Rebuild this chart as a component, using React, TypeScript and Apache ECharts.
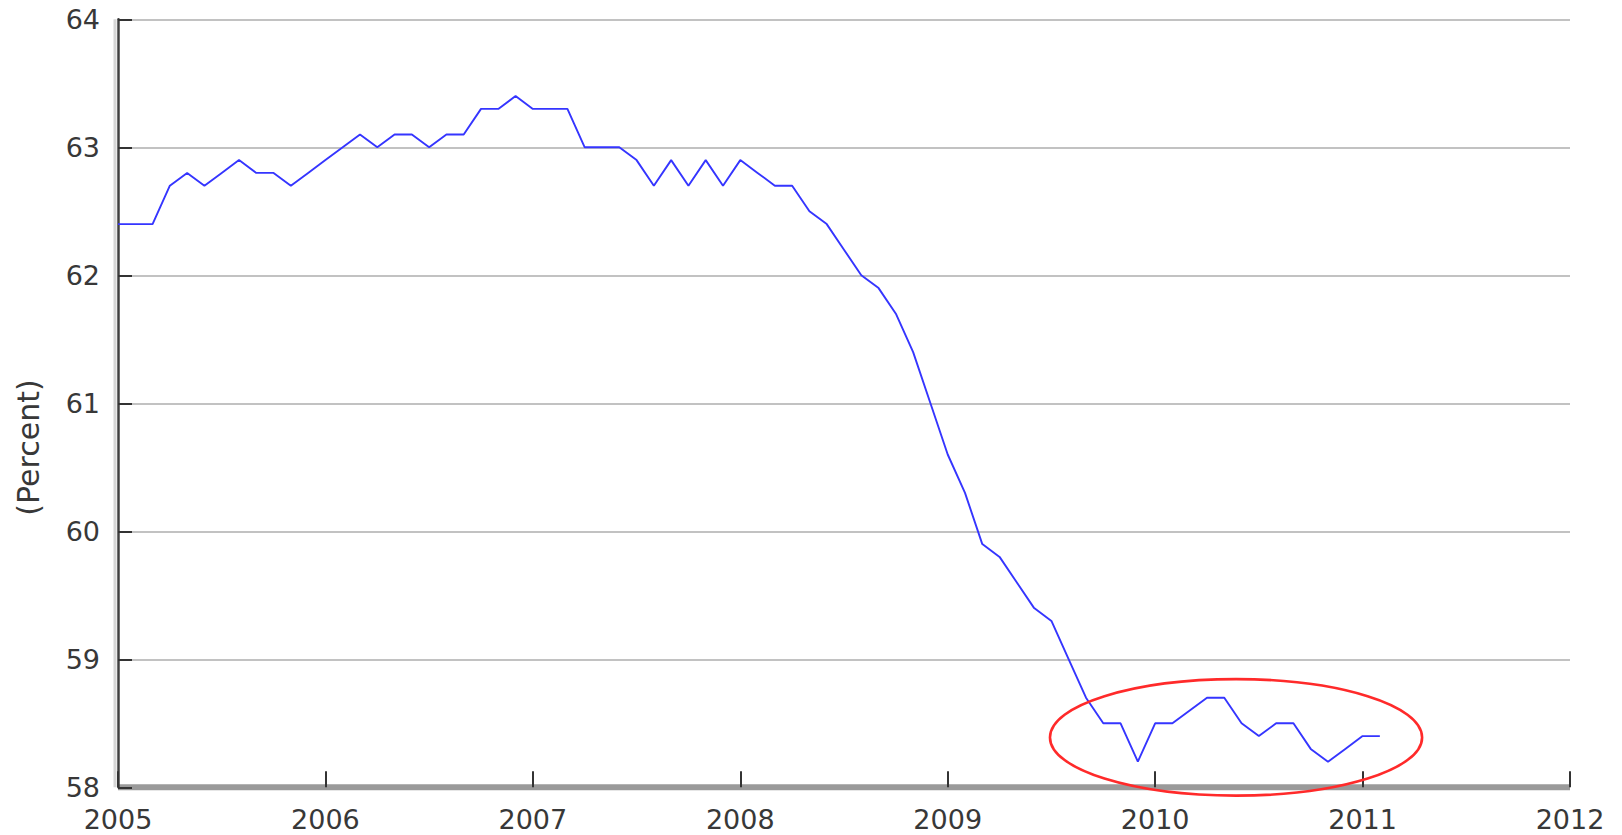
import React, { useEffect, useRef } from 'react';
import * as echarts from 'echarts';

// Tick labels
const xTickYears = [2005, 2006, 2007, 2008, 2009, 2010, 2011, 2012];
const yTickValues = [58, 59, 60, 61, 62, 63, 64];
const yAxisTitle = '(Percent)';

// Monthly values (percent)
const ratio2005 = [62.4, 62.4, 62.4, 62.7, 62.8, 62.7, 62.8, 62.9, 62.8, 62.8, 62.7, 62.8];
const ratio2006 = [62.9, 63.0, 63.1, 63.0, 63.1, 63.1, 63.0, 63.1, 63.1, 63.3, 63.3, 63.4];
const ratio2007 = [63.3, 63.3, 63.3, 63.0, 63.0, 63.0, 62.9, 62.7, 62.9, 62.7, 62.9, 62.7];
const ratio2008 = [62.9, 62.8, 62.7, 62.7, 62.5, 62.4, 62.2, 62.0, 61.9, 61.7, 61.4, 61.0];
const ratio2009 = [60.6, 60.3, 59.9, 59.8, 59.6, 59.4, 59.3, 59.0, 58.7, 58.5, 58.5, 58.2];
const ratio2010 = [58.5, 58.5, 58.6, 58.7, 58.7, 58.5, 58.4, 58.5, 58.5, 58.3, 58.2, 58.3];
const ratio2011 = [58.4, 58.4];

const yearlyValues: [number, number[]][] = [
  [2005, ratio2005],
  [2006, ratio2006],
  [2007, ratio2007],
  [2008, ratio2008],
  [2009, ratio2009],
  [2010, ratio2010],
  [2011, ratio2011],
];

// Annotation ellipse in data units (center [year, percent], radii [years, percent])
const ellipseCenter = [2010.39, 58.39];
const ellipseRadius = [0.897, 0.455];

const FONT = '"DejaVu Sans", Verdana, sans-serif';

export default function App() {
  const ref = useRef<HTMLDivElement>(null);

  useEffect(() => {
    if (!ref.current) return;
    const chart = echarts.init(ref.current, null, { renderer: 'svg' });

    const seriesData: [number, number][] = [];
    yearlyValues.forEach(([yr, vals]) => {
      vals.forEach((v, m) => seriesData.push([yr + m / 12, v]));
    });

    const option: any = {
      animation: false,
      backgroundColor: '#ffffff',
      grid: {
        left: 118,
        right: 52,
        top: 19.3,
        bottom: 47.7,
        containLabel: false,
        outerBoundsMode: 'none',
      },
      xAxis: {
        type: 'value',
        min: xTickYears[0],
        max: xTickYears[xTickYears.length - 1],
        interval: 1,
        axisLine: { show: false, onZero: false },
        axisTick: { show: true, inside: true, length: 16, lineStyle: { color: '#333333', width: 2 } },
        axisLabel: {
          margin: 19,
          color: '#383838',
          fontFamily: FONT,
          fontSize: 27,
          formatter: (v: number) => (xTickYears.includes(v) ? String(v) : ''),
        },
        splitLine: { show: false },
      },
      yAxis: {
        type: 'value',
        min: yTickValues[0],
        max: yTickValues[yTickValues.length - 1],
        interval: 1,
        axisLine: {
          show: true,
          onZero: false,
          lineStyle: { color: '#404040', width: 2.5 },
        },
        axisTick: { show: true, inside: true, length: 14, lineStyle: { color: '#333333', width: 2 } },
        axisLabel: {
          margin: 18,
          color: '#383838',
          fontFamily: FONT,
          fontSize: 27,
          formatter: (v: number) => String(v),
        },
        splitLine: {
          show: true,
          showMinLine: false,
          lineStyle: { color: '#c2c2c2', width: 2 },
        },
      },
      series: [
        {
          type: 'line',
          data: seriesData,
          showSymbol: false,
          symbol: 'none',
          lineStyle: { color: '#3535ff', width: 1.9 },
          z: 5,
        },
      ],
    };

    chart.setOption(option);

    const toPx = (p: number[]) => chart.convertToPixel({ gridIndex: 0 }, p) as number[];
    const c = toPx(ellipseCenter);
    const e = toPx([ellipseCenter[0] + ellipseRadius[0], ellipseCenter[1] + ellipseRadius[1]]);
    const topLeft = toPx([xTickYears[0], yTickValues[yTickValues.length - 1]]);
    const bottomLeft = toPx([xTickYears[0], yTickValues[0]]);
    const bottomRight = toPx([xTickYears[xTickYears.length - 1], yTickValues[0]]);

    chart.setOption({
      graphic: [
        {
          type: 'line',
          z: -1,
          shape: { x1: topLeft[0] - 3, y1: topLeft[1], x2: bottomLeft[0] - 3, y2: bottomLeft[1] },
          style: { stroke: '#d6d6d6', lineWidth: 3 },
        },
        {
          type: 'rect',
          z: 0,
          shape: {
            x: bottomLeft[0],
            y: bottomLeft[1] - 3,
            width: bottomRight[0] - bottomLeft[0],
            height: 6,
          },
          style: { fill: '#9a9a9a' },
        },
        {
          type: 'text',
          x: 28,
          y: 447.5,
          rotation: Math.PI / 2,
          style: {
            text: yAxisTitle,
            x: 0,
            y: 0,
            align: 'center',
            verticalAlign: 'middle',
            fill: '#383838',
            font: `30px ${FONT}`,
          },
        },
        {
          type: 'ellipse',
          z: 100,
          shape: { cx: c[0], cy: c[1], rx: Math.abs(e[0] - c[0]), ry: Math.abs(c[1] - e[1]) },
          style: { fill: 'none', stroke: '#ff2a2a', lineWidth: 2.6 },
        },
      ],
    });

    return () => chart.dispose();
  }, []);

  return (
    <div
      ref={ref}
      style={{ position: 'fixed', left: 0, top: 0, width: 1622, height: 835 }}
    />
  );
}
